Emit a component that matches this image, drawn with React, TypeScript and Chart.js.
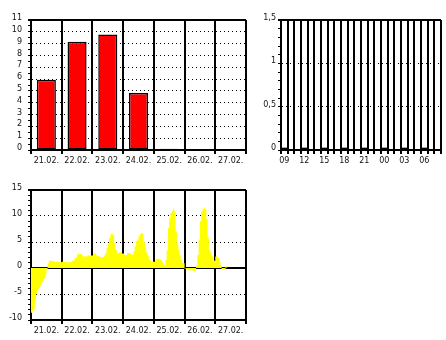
import { useEffect, useRef } from 'react';
import { Chart, registerables } from 'chart.js';

Chart.register(...registerables);

// ---------- data ----------
const dayLabels = ['21.02.', '22.02.', '23.02.', '24.02.', '25.02.', '26.02.', '27.02.'];
const dailyPrecip = [5.95, 9.15, 9.78, 4.82, 0.1, 0, 0];

const hourLabels = ['09', '10', '11', '12', '13', '14', '15', '16', '17', '18', '19', '20',
  '21', '22', '23', '00', '01', '02', '03', '04', '05', '06', '07', '08'];
const hourlyPrecip = [0, null, null, 0, null, null, 0, null, null, 0, null, null,
  0, null, null, 0, null, null, 0, null, null, 0, null, null];

const temp21 = [-8.6, -8.3, -7.9, -6.2, -5.0, -4.3, -3.9, -3.5, -3.0, -2.5, -2.0, -1.3,
  -0.4, 0.9, 1.4, 1.4, 1.4, 1.3, 1.2, 1.2, 1.2, 1.2, 1.1, 1.1];
const temp22 = [1.2, 1.2, 1.2, 1.1, 1.1, 1.1, 1.1, 1.2, 1.4, 1.4, 1.9, 2.0,
  2.6, 2.7, 2.7, 2.7, 2.3, 2.2, 2.2, 2.2, 2.4, 2.4, 2.4, 2.4];
const temp23 = [2.4, 2.9, 2.7, 2.4, 2.3, 2.2, 2.1, 2.0, 2.1, 2.4, 2.9, 3.9,
  4.6, 5.8, 6.5, 6.6, 6.4, 4.8, 3.5, 2.8, 2.9, 3.0, 3.1, 2.8];
const temp24 = [2.8, 2.5, 2.5, 2.9, 2.9, 2.9, 2.6, 2.6, 3.2, 4.2, 5.2, 5.5,
  6.1, 6.5, 6.8, 6.6, 5.0, 4.0, 3.0, 2.3, 1.8, 1.5, 1.2, 1.2];
const temp25 = [1.2, 1.5, 1.8, 1.8, 1.7, 1.6, 1.3, 0.9, 0.6, 1.6, 3.4, 7.7,
  9.7, 10.6, 11.0, 11.4, 10.8, 7.0, 4.8, 3.5, 2.5, 1.5, 1.0, 0.9];
const temp26 = [-0.1, -0.2, -0.3, -0.45, -0.45, -0.4, -0.5, -0.65, -0.5, 0.4, 2.5, 5.5,
  9.0, 10.8, 11.2, 11.6, 11.2, 9.4, 5.8, 3.5, 3.0, 2.3, 1.4, 1.4];
const temp27 = [2.2, 2.2, 1.9, 1.2, 0.6, -0.2, -0.3, -0.3, 0.5];

const hourlyTemp = [...temp21, ...temp22, ...temp23, ...temp24, ...temp25, ...temp26, ...temp27];

// ---------- styles ----------
const FONT = { family: 'DejaVu Sans', size: 8 };
// y labels sit ~2px above their ticks: a 2-line label with a small line height lifts them
const YFONT = { family: 'DejaVu Sans', size: 8, lineHeight: 0.5 };
const TXT = '#111111';
const BLACK = '#000000';
const CLEAR = 'rgba(0,0,0,0)';
const DOT = [1, 3];

function near(v: number, t: number) {
  return Math.abs(v - t) < 1e-6;
}

function lift(s: string) {
  return s === '' ? '' : [s, ''];
}

function useChart(factory: (c: HTMLCanvasElement) => Chart) {
  const ref = useRef<HTMLCanvasElement | null>(null);
  useEffect(() => {
    if (!ref.current) return;
    const ch = factory(ref.current);
    return () => ch.destroy();
  }, []);
  return ref;
}

function xCatScale(extra: any = {}) {
  return {
    type: 'category',
    offset: true,
    grid: { offset: true, color: BLACK, lineWidth: 2, tickLength: 4, tickColor: BLACK },
    border: { color: BLACK, width: 2 },
    ticks: { font: FONT, color: TXT, padding: 2, maxRotation: 0, minRotation: 0, autoSkip: false },
    afterFit: (s: any) => { s.height = 20; },
    ...extra,
  };
}

export default function App() {
  const refA = useChart((c) => new Chart(c, {
    type: 'bar',
    data: {
      labels: dayLabels,
      datasets: [{
        data: dailyPrecip,
        backgroundColor: '#ff0000',
        borderColor: BLACK,
        borderWidth: 1.5,
        borderSkipped: false,
        categoryPercentage: 1,
        barPercentage: 0.62,
      }],
    },
    options: {
      animation: false,
      responsive: false,
      maintainAspectRatio: false,
      layout: { padding: { left: 0, right: 4, top: 20, bottom: 0 } },
      plugins: { legend: { display: false }, tooltip: { enabled: false } },
      scales: {
        x: xCatScale(),
        y: {
          min: 0, max: 11,
          ticks: {
            stepSize: 0.5, autoSkip: false, font: YFONT, color: TXT, padding: 6,
            callback: (v: any) => lift(Number.isInteger(v) ? String(v) : ''),
          },
          grid: {
            color: (ctx: any) => {
              const v = ctx.tick ? ctx.tick.value : 0;
              return Number.isInteger(v) && v > 0 ? BLACK : CLEAR;
            },
            lineWidth: (ctx: any) => (ctx.tick && near(ctx.tick.value, 11) ? 2 : 1),
            tickColor: BLACK, tickLength: 3,
          },
          border: {
            color: BLACK, width: 2,
            dash: (ctx: any) => (ctx.tick && near(ctx.tick.value, 11) ? [] : DOT),
          },
          afterFit: (s: any) => { s.width = 31; },
        },
      },
    } as any,
  }));

  const refB = useChart((c) => new Chart(c, {
    type: 'bar',
    data: {
      labels: hourLabels,
      datasets: [{
        data: hourlyPrecip,
        backgroundColor: BLACK,
        borderWidth: 0,
        minBarLength: 2,
        categoryPercentage: 1,
        barPercentage: 1,
      }],
    },
    options: {
      animation: false,
      responsive: false,
      maintainAspectRatio: false,
      layout: { padding: { left: 0, right: 5, top: 20, bottom: 0 } },
      plugins: { legend: { display: false }, tooltip: { enabled: false } },
      scales: {
        x: xCatScale({
          ticks: {
            font: FONT, color: TXT, padding: 2, maxRotation: 0, minRotation: 0, autoSkip: false,
            callback: (_v: any, i: number) => (i % 3 === 0 ? hourLabels[i] : ''),
          },
        }),
        y: {
          min: 0, max: 1.5,
          ticks: {
            stepSize: 0.1, autoSkip: false, font: YFONT, color: TXT, padding: 2,
            callback: (v: any) => {
              const r = Math.round(v * 10) / 10;
              return lift(near(r * 2, Math.round(r * 2)) ? String(r).replace('.', ',') : '');
            },
          },
          grid: {
            color: (ctx: any) => {
              const v = ctx.tick ? ctx.tick.value : 0;
              return near(v, 0.5) || near(v, 1) || near(v, 1.5) ? BLACK : CLEAR;
            },
            lineWidth: (ctx: any) => (ctx.tick && near(ctx.tick.value, 1.5) ? 2 : 1),
            tickColor: BLACK, tickLength: 3,
          },
          border: {
            color: BLACK, width: 2,
            dash: (ctx: any) => (ctx.tick && near(ctx.tick.value, 1.5) ? [] : DOT),
          },
          afterFit: (s: any) => { s.width = 31; },
        },
      },
    } as any,
  }));

  const refC = useChart((c) => {
    const pts = hourlyTemp.map((v, i) => ({ x: i, y: v }));
    pts.push({ x: hourlyTemp.length, y: hourlyTemp[hourlyTemp.length - 1] });
    return new Chart(c, {
      type: 'line',
      data: {
        labels: dayLabels,
        datasets: [{
          data: pts,
          xAxisID: 'xh',
          yAxisID: 'y',
          stepped: 'before',
          fill: 'origin',
          backgroundColor: '#ffff00',
          borderWidth: 0,
          borderColor: CLEAR,
          pointRadius: 0,
        }],
      },
      options: {
        animation: false,
        responsive: false,
        maintainAspectRatio: false,
        layout: { padding: { left: 0, right: 4, top: 20, bottom: 0 } },
        plugins: { legend: { display: false }, tooltip: { enabled: false } },
        scales: {
          x: xCatScale({ z: 1 }),
          xh: { type: 'linear', min: 0, max: dayLabels.length * 24, display: false },
          y: {
            min: -10, max: 15,
            ticks: {
              stepSize: 1, autoSkip: false, font: YFONT, color: TXT, padding: 6,
              callback: (v: any) => lift(v % 5 === 0 ? String(v) : ''),
            },
            grid: {
              color: (ctx: any) => {
                const v = ctx.tick ? ctx.tick.value : 0;
                return v % 5 === 0 && v !== 0 && v !== -10 ? BLACK : CLEAR;
              },
              lineWidth: (ctx: any) => (ctx.tick && ctx.tick.value === 15 ? 2 : 1),
              tickColor: BLACK, tickLength: 3,
            },
            border: {
              color: BLACK, width: 2,
              dash: (ctx: any) => (ctx.tick && ctx.tick.value === 15 ? [] : DOT),
            },
            afterFit: (s: any) => { s.width = 31; },
          },
          y0: {
            position: 'left',
            min: -10, max: 15,
            z: 1,
            ticks: { display: false, stepSize: 5 },
            grid: {
              drawTicks: false,
              color: (ctx: any) => (ctx.tick && ctx.tick.value === 0 ? BLACK : CLEAR),
              lineWidth: 2,
            },
            border: { display: false },
            afterFit: (s: any) => { s.width = 0; },
          },
        },
      } as any,
    });
  });

  return (
    <div style={{ position: 'fixed', left: 0, top: 0, width: 446, height: 340, background: '#fff' }}>
      <canvas ref={refA} width={250} height={170} style={{ position: 'absolute', left: 0, top: 0 }} />
      <canvas ref={refB} width={196} height={170} style={{ position: 'absolute', left: 250, top: 0 }} />
      <canvas ref={refC} width={250} height={170} style={{ position: 'absolute', left: 0, top: 170 }} />
    </div>
  );
}
